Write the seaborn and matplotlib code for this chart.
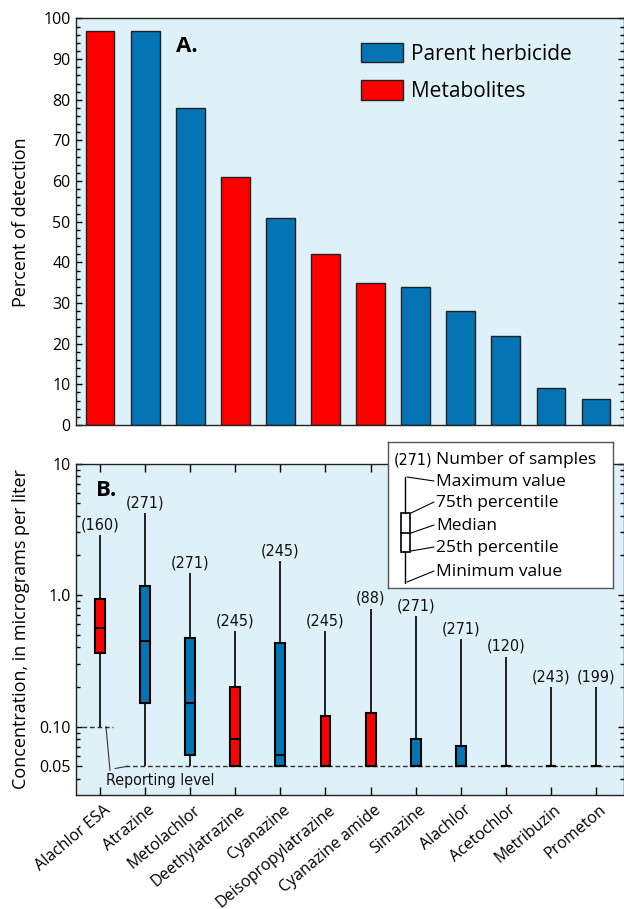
import matplotlib
matplotlib.use("Agg")
import matplotlib.pyplot as plt
import matplotlib.ticker as mticker
from matplotlib import font_manager
from matplotlib.patches import Patch, Rectangle
from matplotlib.transforms import ScaledTranslation
import pandas as pd
import seaborn as sns

# --- data ---------------------------------------------------------------
names = ["Alachlor ESA", "Atrazine", "Metolachlor", "Deethylatrazine", "Cyanazine",
         "Deisopropylatrazine", "Cyanazine amide", "Simazine", "Alachlor",
         "Acetochlor", "Metribuzin", "Prometon"]
kinds = ["Metabolites", "Parent herbicide", "Parent herbicide", "Metabolites",
         "Parent herbicide", "Metabolites", "Metabolites", "Parent herbicide",
         "Parent herbicide", "Parent herbicide", "Parent herbicide", "Parent herbicide"]
pct_detect = [97, 97, 78, 61, 51, 42, 35, 34, 28, 22, 9, 6.5]
n_samples = [160, 271, 271, 245, 245, 245, 88, 271, 271, 120, 243, 199]
c_min = [0.10, 0.05, 0.05, 0.05, 0.05, 0.05, 0.05, 0.05, 0.05, 0.05, 0.05, 0.05]
c_q1 = [0.36, 0.15, 0.061, 0.05, 0.05, 0.05, 0.05, 0.05, 0.05, 0.05, 0.05, 0.05]
c_med = [0.565, 0.45, 0.15, 0.081, 0.061, 0.05, 0.05, 0.05, 0.05, 0.05, 0.05, 0.05]
c_q3 = [0.94, 1.18, 0.47, 0.20, 0.43, 0.121, 0.126, 0.081, 0.071, 0.05, 0.05, 0.05]
c_max = [2.85, 4.2, 1.46, 0.53, 1.8, 0.53, 0.79, 0.69, 0.465, 0.34, 0.20, 0.20]
kind_order = ["Parent herbicide", "Metabolites"]
conc_ticks = [0.03, 0.05, 0.1, 1, 10]
conc_ticklabels = ["0", "0.05", "0.10", "1.0", "10"]

BLUE = "#0474B4"
RED = "#FF0000"
BG = "#DFF1F8"
palette = {"Parent herbicide": BLUE, "Metabolites": RED}

sns.set_style("ticks")
plt.rcParams["font.family"] = ["Open Sans", "DejaVu Sans"]
plt.rcParams.update({"text.color": "black", "axes.labelcolor": "black",
                     "xtick.color": "black", "ytick.color": "black"})

# pick a condensed face for the small annotations
_fonts = font_manager.fontManager.ttflist
if any(f.name == "Liberation Sans Narrow" for f in _fonts):
    NARROW = dict(family=["Liberation Sans Narrow", "DejaVu Sans"])
    NSIZE = 12
elif any(f.name == "DejaVu Sans" and f.stretch == "condensed" for f in _fonts):
    NARROW = dict(family=["DejaVu Sans"], stretch="condensed")
    NSIZE = 11.5
else:
    NARROW = dict(family=["Roboto", "DejaVu Sans"])
    NSIZE = 11

fig = plt.figure(figsize=(6.24, 9.09), dpi=100)
W, H = 624, 909
left = 76 / W
width = (624 - 76) / W
ax_a = fig.add_axes([left, 1 - 425 / H, width, 406.5 / H])
ax_b = fig.add_axes([left, 1 - 795 / H, width, 331.5 / H])
xlim = (-0.532, 11.62)

# --- panel A: bars -------------------------------------------------------
ax_a.set_facecolor(BG)
sns.barplot(x=names, y=pct_detect, hue=kinds, palette=palette, order=names,
            dodge=False, width=0.64, saturation=1, edgecolor="#222222",
            linewidth=1, legend=False, ax=ax_a)
ax_a.set_xlim(*xlim)
ax_a.set_ylim(0, 100)
ax_a.yaxis.set_major_locator(mticker.MultipleLocator(10))
ax_a.yaxis.set_minor_locator(mticker.MultipleLocator(2))
ax_a.tick_params(axis="y", which="both", direction="in", left=True, right=True,
                 labelsize=11.5, pad=4)
ax_a.tick_params(axis="y", which="major", length=4.5, width=1)
ax_a.tick_params(axis="y", which="minor", length=2.8, width=1)
ax_a.tick_params(axis="x", bottom=False, top=False, labelbottom=False)
ax_a.set_xlabel("")
ax_a.set_ylabel("Percent of detection", fontsize=13)
ax_a.yaxis.set_label_coords(-0.084, 0.5)
for s in ax_a.spines.values():
    s.set_color("#222222")
    s.set_linewidth(1)
ax_a.text(0.183, 0.932, "A.", transform=ax_a.transAxes, fontsize=16,
          fontweight="bold", va="center", ha="left")
handles = [Patch(facecolor=palette[k], edgecolor="#222222", linewidth=1, label=k)
           for k in kind_order]
ax_a.legend(handles=handles, loc="upper left", bbox_to_anchor=(0.52, 0.94),
            frameon=False, fontsize=15, handlelength=2.0, handleheight=1.05,
            handletextpad=0.4, labelspacing=0.75, borderaxespad=0, borderpad=0)

# --- panel B: boxes ------------------------------------------------------
rows = []
for i, name in enumerate(names):
    for v in (c_min[i], c_q1[i], c_med[i], c_q3[i], c_max[i]):
        rows.append({"name": name, "kind": kinds[i], "conc": v})
box_df = pd.DataFrame(rows)

ax_b.set_facecolor(BG)
sns.boxplot(data=box_df, x="name", y="conc", hue="kind", palette=palette,
            order=names, dodge=False, width=0.22, saturation=1, whis=(0, 100),
            showcaps=False, fliersize=0, log_scale=True, legend=False,
            linecolor="black", linewidth=1.5,
            whiskerprops={"color": "black", "linewidth": 1.2},
            medianprops={"color": "black", "linewidth": 1.5},
            ax=ax_b)
ax_b.set_xlim(*xlim)
ax_b.set_ylim(0.0302, 10)
ax_b.yaxis.set_major_locator(mticker.FixedLocator(conc_ticks))
ax_b.yaxis.set_major_formatter(mticker.FixedFormatter(conc_ticklabels))
ax_b.yaxis.set_minor_locator(mticker.LogLocator(base=10, subs=range(2, 10)))
ax_b.yaxis.set_minor_formatter(mticker.NullFormatter())
ax_b.tick_params(axis="y", which="both", direction="in", left=True, right=True,
                 labelsize=11.5, pad=4)
ax_b.tick_params(axis="y", which="major", length=4.5, width=1)
ax_b.tick_params(axis="y", which="minor", length=2.8, width=1)
ax_b.tick_params(axis="x", direction="in", bottom=True, top=True, length=5.5,
                 width=1, labelsize=11.5, pad=5)
ax_b.set_xlabel("")
ax_b.set_ylabel("Concentration, in micrograms per liter", fontsize=13)
ax_b.yaxis.set_label_coords(-0.084, 0.5)
for s in ax_b.spines.values():
    s.set_color("#222222")
    s.set_linewidth(1)

offset = ScaledTranslation(3 / 100, 0, fig.dpi_scale_trans)
for lab in ax_b.get_xticklabels():
    lab.set_rotation(40)
    lab.set_ha("right")
    lab.set_va("top")
    lab.set_rotation_mode("anchor")
    lab.set_transform(lab.get_transform() + offset)

for i, n in enumerate(n_samples):
    ax_b.annotate(f"({n})", xy=(i, c_max[i]), xytext=(0, 2),
                  textcoords="offset points", ha="center", va="bottom",
                  fontsize=NSIZE, color="#111111", **NARROW)

# reporting levels
dash = dict(color="#333333", linewidth=1, dashes=(3.4, 2), zorder=1)
ax_b.plot([-0.4, 0.29], [0.10, 0.10], **dash)
ax_b.plot([0.55, xlim[1]], [0.05, 0.05], **dash)
ax_b.plot([0.133, 0.222], [0.10, 0.0463], color="#333333", linewidth=0.8)
ax_b.plot([0.333, 0.62], [0.048, 0.05], color="#333333", linewidth=0.8)
ax_b.text(0.133, 0.0389, "Reporting level", fontsize=NSIZE, va="center",
          ha="left", color="#111111", **NARROW)
ax_b.text(0.0367, 0.92, "B.", transform=ax_b.transAxes, fontsize=16,
          fontweight="bold", va="center", ha="left")

# --- box-plot key ---------------------------------------------------------
key = fig.add_axes([388 / W, 1 - 588 / H, 225 / W, 146 / H], zorder=5)
key.set_xlim(388, 613)
key.set_ylim(588, 442)
key.set_facecolor("white")
key.set_xticks([])
key.set_yticks([])
for s in key.spines.values():
    s.set_color("#555555")
    s.set_linewidth(1)
key.text(394, 460, "(271)", fontsize=NSIZE, va="center", ha="left", **NARROW)
key.text(436, 460, "Number of samples", fontsize=12.5, va="center", ha="left")
key.plot([405, 405], [477, 513], color="black", linewidth=1)
key.plot([405, 405], [552, 583], color="black", linewidth=1)
key.add_patch(Rectangle((401, 513), 9, 39, facecolor="white",
                        edgecolor="black", linewidth=1.2))
key.plot([401, 410], [533, 533], color="black", linewidth=1.2)
key_labels = ["Maximum value", "75th percentile", "Median", "25th percentile",
              "Minimum value"]
key_from = [(407, 477), (411, 513), (411, 533), (411, 551), (407, 582)]
key_y = [482, 503, 526, 548, 572]
for lab, (x0, y0), yt in zip(key_labels, key_from, key_y):
    key.plot([x0, 434], [y0, yt - 1], color="black", linewidth=0.8)
    key.text(436, yt, lab, fontsize=12.5, va="center", ha="left")

fig.savefig("out.png", dpi=100)
